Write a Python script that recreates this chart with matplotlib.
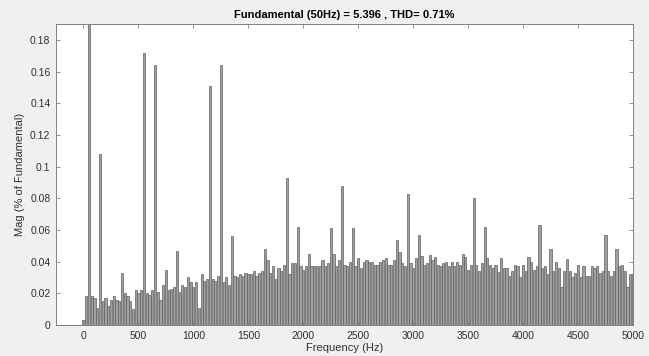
import numpy as np
import matplotlib
matplotlib.use("Agg")
import matplotlib.pyplot as plt

# Frequency bins (Hz), 25 Hz resolution
freq_step = 25
freq_max = 5000

# Magnitudes (% of fundamental), in 500 Hz blocks of 20 bins (last block has 21)
mag_0_475 = [0.003, 0.018, 100.0, 0.018, 0.017, 0.011, 0.108, 0.015, 0.017, 0.012,
             0.016, 0.018, 0.016, 0.015, 0.033, 0.020, 0.018, 0.015, 0.010, 0.022]
mag_500_975 = [0.020, 0.022, 0.172, 0.020, 0.019, 0.022, 0.164, 0.021, 0.016, 0.025,
               0.035, 0.022, 0.023, 0.024, 0.047, 0.021, 0.025, 0.024, 0.030, 0.027]
mag_1000_1475 = [0.024, 0.027, 0.011, 0.032, 0.028, 0.029, 0.151, 0.029, 0.028, 0.031,
                 0.164, 0.027, 0.030, 0.025, 0.056, 0.031, 0.030, 0.032, 0.031, 0.033]
mag_1500_1975 = [0.032, 0.032, 0.034, 0.031, 0.033, 0.034, 0.048, 0.041, 0.033, 0.037,
                 0.029, 0.036, 0.034, 0.038, 0.093, 0.032, 0.039, 0.039, 0.062, 0.037]
mag_2000_2475 = [0.035, 0.037, 0.0445, 0.037, 0.037, 0.0375, 0.037, 0.041, 0.037, 0.039,
                 0.061, 0.045, 0.037, 0.041, 0.088, 0.038, 0.037, 0.040, 0.061, 0.037]
mag_2500_2975 = [0.0425, 0.036, 0.040, 0.041, 0.040, 0.040, 0.038, 0.038, 0.040, 0.041,
                 0.042, 0.038, 0.038, 0.041, 0.0535, 0.046, 0.039, 0.037, 0.083, 0.039]
mag_3000_3475 = [0.036, 0.0425, 0.057, 0.0435, 0.038, 0.039, 0.044, 0.041, 0.043, 0.038,
                 0.037, 0.039, 0.040, 0.037, 0.040, 0.037, 0.040, 0.038, 0.045, 0.043]
mag_3500_3975 = [0.0345, 0.038, 0.080, 0.038, 0.034, 0.039, 0.062, 0.042, 0.038, 0.036,
                 0.038, 0.0335, 0.0425, 0.036, 0.036, 0.031, 0.034, 0.038, 0.037, 0.030]
mag_4000_4475 = [0.038, 0.034, 0.043, 0.040, 0.035, 0.037, 0.063, 0.036, 0.037, 0.032,
                 0.048, 0.034, 0.040, 0.036, 0.024, 0.034, 0.0415, 0.034, 0.030, 0.033]
mag_4500_5000 = [0.038, 0.030, 0.037, 0.031, 0.031, 0.037, 0.036, 0.037, 0.033, 0.034,
                 0.057, 0.034, 0.031, 0.034, 0.048, 0.037, 0.038, 0.034, 0.024, 0.032,
                 0.032]

xtick_vals = [0, 500, 1000, 1500, 2000, 2500, 3000, 3500, 4000, 4500, 5000]
ytick_vals = [0, 0.02, 0.04, 0.06, 0.08, 0.1, 0.12, 0.14, 0.16, 0.18]
ytick_labels = ["0", "0.02", "0.04", "0.06", "0.08", "0.1", "0.12", "0.14", "0.16", "0.18"]

title_text = "Fundamental (50Hz) = 5.396 , THD= 0.71%"
xlabel_text = "Frequency (Hz)"
ylabel_text = "Mag (% of Fundamental)"

mags = np.array(mag_0_475 + mag_500_975 + mag_1000_1475 + mag_1500_1975 + mag_2000_2475
                + mag_2500_2975 + mag_3000_3475 + mag_3500_3975 + mag_4000_4475 + mag_4500_5000)
freqs = np.arange(0, freq_max + 1, freq_step)[:len(mags)]

plt.rcParams['font.family'] = ['Arial', 'Liberation Sans', 'DejaVu Sans']

fig = plt.figure(figsize=(6.49, 3.56), dpi=100, facecolor='#f0f0f0')
ax = fig.add_axes([0.0863, 0.0871, 0.889, 0.8455])
ax.set_facecolor('white')

ax.bar(freqs, mags, width=20, color='#a0a0a0', edgecolor='#5f5f5f', linewidth=0.5)

ax.set_xlim(-250, 5000)
ax.set_ylim(0, 0.19)
ax.set_xticks(xtick_vals)
ax.set_xticklabels([str(v) for v in xtick_vals])
ax.set_yticks(ytick_vals)
ax.set_yticklabels(ytick_labels)

ax.tick_params(direction='in', top=True, right=True, length=3, width=0.6,
               color='#808080', labelcolor='#303030', labelsize=7.5, pad=4)
for s in ax.spines.values():
    s.set_color('#808080')
    s.set_linewidth(0.7)

ax.set_title(title_text, fontsize=8, fontweight='bold', pad=4)
ax.set_xlabel(xlabel_text, fontsize=8, color='#303030', labelpad=2)
ax.set_ylabel(ylabel_text, fontsize=8, color='#303030', labelpad=4)

fig.savefig('out.png', dpi=100, facecolor=fig.get_facecolor())
